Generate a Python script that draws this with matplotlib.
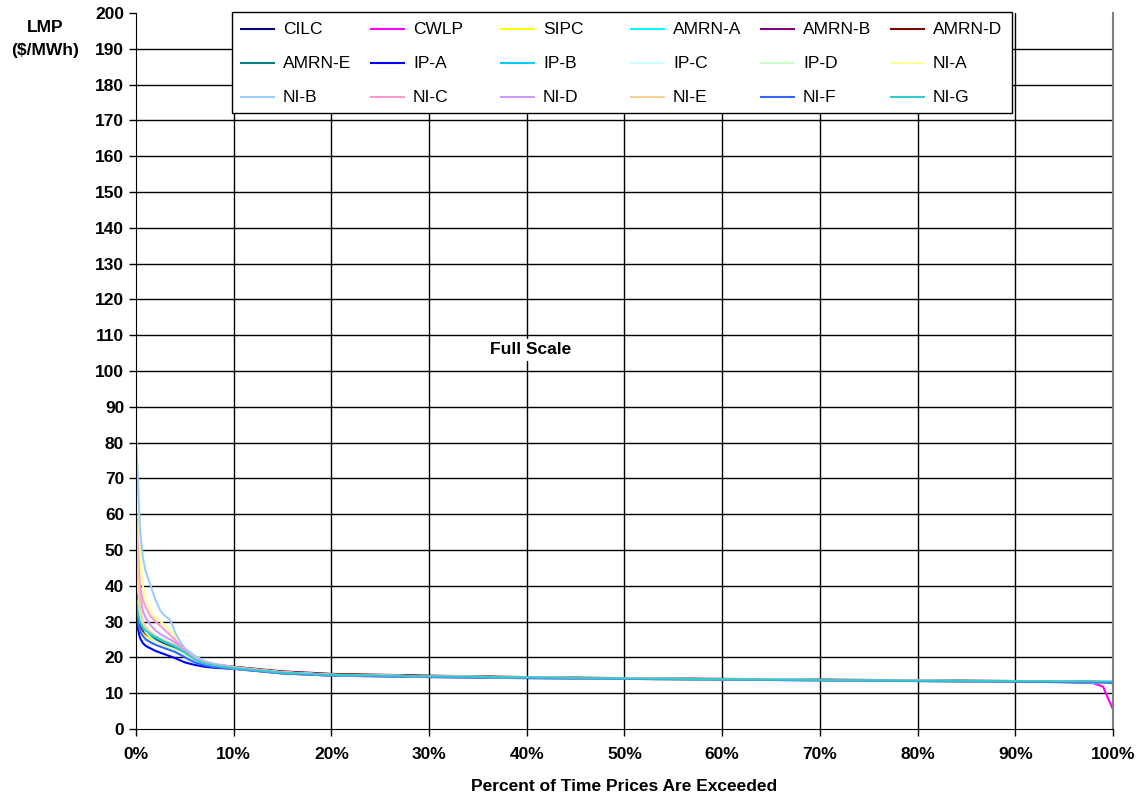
import matplotlib
matplotlib.use("Agg")
import matplotlib.pyplot as plt
from matplotlib.lines import Line2D
from matplotlib.patches import Rectangle
from matplotlib.ticker import FixedLocator, FuncFormatter

plt.rcParams['font.family'] = ['Liberation Sans', 'DejaVu Sans']

# Percent of hours in which the price is exceeded
pct = [0, 0.2, 0.4, 0.7, 1, 1.5, 2, 2.5, 3, 3.5, 4, 4.5, 5, 6, 7, 8,
       10, 15, 20, 30, 40, 50, 60, 70, 80, 90, 95, 98, 99, 99.5, 100]

# LMP duration curves by zone ($/MWh)
cilc = [39, 33, 29.5, 27.5, 26.5, 25.5, 24.8, 24.2, 23.6, 23.0, 22.5, 21.8, 21.0, 19.0, 18.0, 17.5,
        17.0, 15.7, 15.1, 14.7, 14.4, 14.1, 13.9, 13.7, 13.5, 13.3, 13.2, 13.1, 13.0, 13.0, 12.9]
cwlp = [33, 30, 28.5, 27.5, 26.5, 25.6, 24.9, 24.3, 23.7, 23.1, 22.6, 21.9, 21.1, 19.1, 18.0, 17.5,
        17.0, 15.7, 15.1, 14.7, 14.4, 14.1, 13.9, 13.7, 13.5, 13.3, 13.1, 12.8, 11.8, 8.5, 5.5]
sipc = [34, 30.5, 28.5, 27, 26, 25.2, 24.5, 23.9, 23.3, 22.8, 22.3, 21.6, 20.8, 18.9, 17.9, 17.4,
        16.9, 15.6, 15.0, 14.6, 14.3, 14.0, 13.8, 13.6, 13.4, 13.2, 13.1, 13.0, 12.9, 12.9, 12.8]
amrn_a = [35, 31.5, 29.5, 28, 27, 26, 25.3, 24.6, 24, 23.4, 22.8, 22.1, 21.3, 19.3, 18.2, 17.6,
          17.1, 15.8, 15.1, 14.7, 14.4, 14.1, 13.9, 13.7, 13.5, 13.3, 13.2, 13.1, 13.1, 13.1, 13.0]
amrn_b = [34, 31, 29, 27.5, 26.6, 25.7, 25, 24.4, 23.8, 23.2, 22.7, 22, 21.2, 19.2, 18.1, 17.6,
          17.1, 15.8, 15.2, 14.8, 14.4, 14.1, 13.9, 13.7, 13.5, 13.3, 13.2, 13.1, 13.0, 13.0, 12.9]
amrn_d = [36, 32, 29.8, 28.2, 27.2, 26.2, 25.5, 24.8, 24.2, 23.6, 23, 22.3, 21.5, 19.7, 18.6, 18.0,
          17.4, 16.1, 15.4, 14.9, 14.5, 14.2, 14.0, 13.8, 13.6, 13.4, 13.3, 13.2, 13.1, 13.1, 13.0]
amrn_e = [35, 31.5, 29.5, 28, 27, 26, 25.2, 24.6, 24, 23.4, 22.8, 22.1, 21.3, 19.3, 18.2, 17.7,
          17.1, 15.8, 15.1, 14.7, 14.4, 14.1, 13.9, 13.7, 13.5, 13.3, 13.2, 13.1, 13.0, 13.0, 12.9]
ip_a = [33, 28, 25.5, 24, 23.2, 22.5, 21.8, 21.3, 20.8, 20.3, 19.8, 19.2, 18.6, 17.9, 17.4, 17.1,
        16.8, 15.5, 14.9, 14.5, 14.2, 14.0, 13.8, 13.6, 13.4, 13.2, 13.1, 13.0, 12.9, 12.9, 12.8]
ip_b = [36, 32.5, 30, 28.5, 27.5, 26.5, 25.7, 25, 24.4, 23.8, 23.2, 22.4, 21.5, 19.4, 18.3, 17.7,
        17.1, 15.8, 15.1, 14.7, 14.4, 14.1, 13.9, 13.7, 13.5, 13.3, 13.2, 13.1, 13.1, 13.0, 13.0]
ip_c = [37, 33.5, 31, 29.2, 28, 27, 26.2, 25.5, 24.8, 24.1, 23.5, 22.6, 21.6, 19.5, 18.4, 17.8,
        17.1, 15.8, 15.1, 14.7, 14.4, 14.1, 13.9, 13.7, 13.5, 13.3, 13.2, 13.1, 13.1, 13.0, 13.0]
ip_d = [52, 40, 33, 29, 27, 25.5, 24.5, 23.8, 23.2, 22.7, 22.2, 21.5, 20.7, 18.9, 17.9, 17.4,
        16.9, 15.6, 15.0, 14.6, 14.3, 14.0, 13.8, 13.6, 13.4, 13.2, 13.1, 13.0, 12.9, 12.9, 12.8]
ni_a = [83, 68, 50, 40, 36, 33, 31, 30, 29, 27.5, 26, 24, 22.5, 20.2, 18.8, 18,
        17.2, 15.8, 15.1, 14.7, 14.4, 14.1, 13.9, 13.7, 13.5, 13.3, 13.2, 13.1, 13.0, 13.0, 12.9]
ni_b = [81, 70, 56, 48, 44, 40, 36, 33, 31.5, 30.5, 27, 24.5, 22.5, 20.5, 19, 18.2,
        17.3, 15.9, 15.2, 14.7, 14.4, 14.1, 13.9, 13.7, 13.5, 13.3, 13.2, 13.1, 13.0, 13.0, 12.9]
ni_c = [62, 50, 40, 36, 34, 31.5, 30, 28.8, 27.5, 26.2, 25, 23.5, 22, 19.8, 18.6, 17.9,
        17.2, 15.8, 15.1, 14.7, 14.4, 14.1, 13.9, 13.7, 13.5, 13.3, 13.2, 13.1, 13.0, 13.0, 12.9]
ni_d = [58, 46, 37, 33, 31, 29, 27.5, 26.5, 25.7, 25, 24.2, 23, 21.7, 19.6, 18.4, 17.8,
        17.1, 15.8, 15.1, 14.7, 14.4, 14.1, 13.9, 13.7, 13.5, 13.3, 13.2, 13.1, 13.0, 13.0, 12.9]
ni_e = [60, 45, 34, 30, 28.5, 27, 26, 25.2, 24.6, 24, 23.4, 22.5, 21.4, 19.4, 18.3, 17.7,
        17.1, 15.8, 15.1, 14.7, 14.4, 14.1, 13.9, 13.7, 13.5, 13.3, 13.2, 13.1, 13.0, 13.0, 12.9]
ni_f = [34, 29.5, 27.5, 26, 25, 24.2, 23.5, 23, 22.5, 22, 21.5, 20.8, 20, 18.6, 17.8, 17.3,
        16.9, 15.6, 15.0, 14.6, 14.3, 14.0, 13.8, 13.6, 13.4, 13.2, 13.1, 13.0, 13.0, 12.9, 12.9]
ni_g = [36, 32.5, 30, 28.5, 27.5, 26.5, 25.7, 25, 24.3, 23.7, 23.1, 22.3, 21.4, 19.4, 18.3, 17.7,
        17.0, 15.7, 15.1, 14.7, 14.4, 14.1, 13.9, 13.7, 13.5, 13.4, 13.3, 13.3, 13.3, 13.3, 13.3]

zones = ["CILC", "CWLP", "SIPC", "AMRN-A", "AMRN-B", "AMRN-D",
         "AMRN-E", "IP-A", "IP-B", "IP-C", "IP-D", "NI-A",
         "NI-B", "NI-C", "NI-D", "NI-E", "NI-F", "NI-G"]
series = [cilc, cwlp, sipc, amrn_a, amrn_b, amrn_d,
          amrn_e, ip_a, ip_b, ip_c, ip_d, ni_a,
          ni_b, ni_c, ni_d, ni_e, ni_f, ni_g]
colors = ["#000080", "#FF00FF", "#FFFF00", "#00FFFF", "#800080", "#800000",
          "#008080", "#0000FF", "#00CCFF", "#CCFFFF", "#CCFFCC", "#FFFF99",
          "#99CCFF", "#FF99CC", "#CC99FF", "#FFCC99", "#3366FF", "#33CCCC"]

y_ticks = list(range(0, 201, 10))
x_ticks = list(range(0, 101, 10))

W, H = 1138, 801
fig = plt.figure(figsize=(W / 100, H / 100), dpi=100)
ax = fig.add_axes([0.1195, 0.0899, 0.8585, 0.8939])

for name, vals, c in zip(zones, series, colors):
    ax.plot(pct, vals, color=c, lw=1.5, label=name, solid_joinstyle='round')

ax.set_xlim(0, 100)
ax.set_ylim(0, 200)

# gridlines drawn behind the curves
for yv in y_ticks[1:-1]:
    ax.axhline(yv, color='black', lw=1.0, zorder=0.5)
for xv in x_ticks[1:-1]:
    ax.axvline(xv, color='black', lw=1.0, zorder=0.5)

ax.xaxis.set_major_locator(FixedLocator(x_ticks))
ax.yaxis.set_major_locator(FixedLocator(y_ticks))
ax.xaxis.set_major_formatter(FuncFormatter(lambda v, p: f"{int(v)}%"))
ax.tick_params(axis='both', direction='out', length=5, width=1, color='black',
               labelsize=12.5)
ax.tick_params(axis='x', pad=8)
for lab in ax.get_xticklabels() + ax.get_yticklabels():
    lab.set_fontweight('bold')

ax.spines['top'].set_visible(False)
ax.spines['right'].set_color('#808080')
ax.spines['right'].set_linewidth(1.5)
ax.spines['left'].set_color('black')
ax.spines['bottom'].set_color('black')

ax.set_xlabel("Percent of Time Prices Are Exceeded", fontsize=12.5,
              fontweight='bold', labelpad=12)
fig.text(0.040, 0.966, "LMP", ha='center', va='center', fontsize=12.5,
         fontweight='bold')
fig.text(0.040, 0.937, "($/MWh)", ha='center', va='center', fontsize=12.5,
         fontweight='bold')

ax.text(40.4, 105.9, "Full Scale", ha='center', va='center', fontsize=12.5,
        fontweight='bold',
        bbox=dict(facecolor='white', edgecolor='none', pad=2.5), zorder=3)

# Legend box: six equal-width columns, entries read across the rows
def fx(px):
    return px / W

def fy(py):
    return 1 - py / H

box_l, box_t, box_r, box_b = 232, 12, 1012, 113
fig.add_artist(Rectangle((fx(box_l), fy(box_b)), fx(box_r) - fx(box_l),
                         fy(box_t) - fy(box_b), transform=fig.transFigure,
                         facecolor='white', edgecolor='black', lw=1.0,
                         zorder=5))
col_w, row_h = 130, 34.2
for i, (name, c) in enumerate(zip(zones, colors)):
    r, k = divmod(i, 6)
    x0 = 241 + col_w * k
    yc = 29 + row_h * r
    fig.add_artist(Line2D([fx(x0), fx(x0 + 33)], [fy(yc), fy(yc)],
                          transform=fig.transFigure, color=c, lw=1.5,
                          zorder=6))
    fig.text(fx(x0 + 42), fy(yc), name, ha='left', va='center',
             fontsize=12.5, zorder=6)

fig.savefig("out.png", dpi=100, facecolor='white')
